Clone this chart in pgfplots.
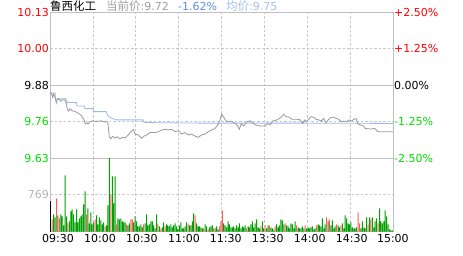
\documentclass[border=0pt]{standalone}
\usepackage{pgfplots}
\pgfplotsset{compat=1.18}
\usepackage{fontspec}
\setmainfont{DejaVu Sans}
\newfontfamily\cjk{Noto Sans CJK SC}
\definecolor{upred}{HTML}{FF0000}
\definecolor{dngreen}{HTML}{00E000}
\definecolor{barred}{HTML}{FF5A5A}
\definecolor{bargreen}{HTML}{00A000}
\definecolor{gridc}{HTML}{C8C8C8}
\definecolor{framec}{HTML}{C0C0C0}
\definecolor{pricec}{HTML}{999999}
\definecolor{avgc}{HTML}{9DB9EC}
\definecolor{titgray}{HTML}{A0A0A0}
\definecolor{titblue}{HTML}{5B8FE0}
\definecolor{titlblue}{HTML}{A3BFEF}
\definecolor{volgray}{HTML}{B4B4B4}

\pgfplotstableread{
m v
0 630
}\blackvol
\pgfplotstableread{
m v
1 252
4 693
6 273
12 168
25 357
31 252
38 105
42 777
46 147
53 147
56 252
57 252
65 147
75 147
77 63
80 105
96 147
101 336
107 63
110 42
114 63
118 105
119 210
120 441
137 63
147 105
150 126
153 126
157 105
164 168
172 126
178 126
186 126
193 294
195 252
200 147
203 126
215 399
216 168
222 147
224 252
229 168
}\redvol
\pgfplotstableread{
m v
2 357
3 294
5 336
7 357
8 315
9 126
10 1176
11 315
13 210
14 420
15 462
16 357
17 189
18 462
19 189
20 273
21 315
22 357
23 567
24 840
26 483
27 168
28 399
29 147
30 189
32 336
33 147
34 294
35 231
36 147
37 189
39 126
40 546
41 1533
43 1155
44 588
45 1155
47 273
48 252
49 273
50 210
51 189
52 189
54 126
55 168
58 189
59 315
60 210
61 105
62 105
63 147
64 84
66 168
67 357
68 126
69 147
70 210
71 210
72 126
73 63
74 357
76 105
78 84
79 189
81 147
82 126
83 105
84 147
85 84
86 126
87 168
88 105
89 42
90 126
91 189
92 63
93 63
94 105
95 189
97 126
98 126
99 210
100 378
102 168
103 105
104 105
105 84
106 63
108 147
109 105
111 84
112 105
113 126
115 63
116 105
117 42
121 168
122 126
123 84
124 210
125 147
126 84
127 84
128 105
129 63
130 126
131 84
132 168
133 63
134 105
135 84
136 126
138 105
139 84
140 147
141 210
142 84
143 168
144 252
145 84
146 63
148 210
149 63
151 63
152 126
154 84
155 63
156 42
158 147
159 84
160 126
161 252
162 231
163 147
165 126
166 105
167 63
168 168
169 147
170 63
171 210
173 84
174 63
175 63
176 105
177 63
179 63
180 84
181 63
182 84
183 105
184 42
185 63
187 147
188 126
189 105
190 273
191 63
192 147
194 210
196 126
197 231
198 63
199 105
201 126
202 84
204 168
205 63
206 336
207 273
208 168
209 147
210 189
211 84
212 63
213 63
214 84
217 63
218 210
219 84
220 63
221 294
223 294
225 294
226 84
227 210
228 273
230 483
231 210
232 168
233 210
234 441
235 315
236 147
237 42
238 21
239 21
240 1281
}\greenvol

\begin{document}
\begin{tikzpicture}
\useasboundingbox (0pt,0pt) rectangle (463pt,255pt);
\pgfplotsset{
  common/.style={scale only axis, width=343pt, xmin=0, xmax=240,
    axis line style={framec, line width=0.8pt},
    major tick length=0pt,
    tick label style={font=\fontsize{11}{13}\selectfont},
    grid style={gridc, dash pattern=on 2.5pt off 2pt, line width=0.6pt},
  }
}
% price panel
\begin{axis}[common, at={(50pt,97pt)}, anchor=south west, height=146pt,
  ymin=9.633, ymax=10.127,
  xtick={30,60,...,210}, xticklabels={}, xmajorgrids,
  ytick={9.7565,10.0035},
  yticklabels={\textcolor{dngreen}{9.76},\textcolor{upred}{10.00}},
  ymajorgrids,
  extra y ticks={9.633,9.88,10.127},
  extra y tick labels={\textcolor{dngreen}{9.63},9.88,\textcolor{upred}{10.13}},
  extra y tick style={grid=major, grid style={solid, framec, line width=0.8pt}},
  yticklabel style={inner sep=1pt},
]
\addplot[avgc, line width=0.8pt] coordinates {
(0,9.853) (3.6,9.853) (3.8,9.833) (11.2,9.833) (11.9,9.821) (18.5,9.821)
(18.9,9.809) (24.1,9.809) (24.5,9.800) (30.1,9.800) (30.4,9.790) (39.2,9.790)
(40.6,9.775) (43.4,9.767) (46.5,9.762) (65.1,9.762) (65.8,9.753) (105,9.751)
(175,9.751) (240,9.750)
};
\addplot[pricec, line width=0.8pt] coordinates {
(0,9.847) (0.9,9.853) (1.9,9.838) (2.6,9.850) (3.7,9.836) (4.4,9.819)
(5.1,9.830) (6.1,9.834) (7.5,9.825) (9.1,9.830) (10.3,9.830) (11.4,9.819)
(12.1,9.800) (13.1,9.791) (14,9.800) (15.4,9.793) (17.3,9.791) (19.6,9.785)
(21.9,9.777) (23.8,9.763) (24.7,9.748) (25.7,9.752) (26.6,9.748) (28,9.755)
(29.9,9.759) (31.7,9.757) (33.6,9.757) (35.9,9.759) (38.3,9.755) (39.7,9.757)
(40.6,9.750) (41.1,9.723) (41.5,9.705) (42.5,9.698) (43.9,9.707) (45.5,9.700)
(47.1,9.705) (49,9.698) (50.9,9.703) (52.5,9.701) (54.8,9.711) (57.2,9.725)
(58.3,9.730) (59.5,9.714) (61.8,9.711) (64.2,9.700) (65.8,9.707) (67.7,9.711)
(70,9.719) (73.5,9.719) (75.8,9.722) (78.2,9.728) (80.5,9.730) (82.8,9.728)
(85.2,9.730) (87.5,9.722) (89.8,9.725) (92.2,9.714) (94.5,9.719) (96.8,9.711)
(99.1,9.714) (101.5,9.707) (103.8,9.703) (106.1,9.711) (108.5,9.714) (110.8,9.722)
(113.1,9.728) (115.5,9.733) (117.8,9.748) (119,9.762) (120.1,9.782) (121.3,9.773)
(122.4,9.764) (123.6,9.756) (126,9.758) (127.3,9.756) (129.7,9.750) (130.8,9.745)
(132.5,9.730) (133.9,9.750) (135.5,9.741) (137.8,9.756) (140.2,9.759) (141.8,9.752)
(143.6,9.745) (147.1,9.741) (150.6,9.741) (152.5,9.750) (154.1,9.745) (155.8,9.758)
(158.8,9.762) (161.8,9.771) (163.5,9.781) (165.1,9.773) (167.4,9.771) (169.3,9.764)
(172.8,9.764) (175.1,9.762) (176.8,9.750) (178.2,9.762) (179.1,9.756) (181,9.764)
(182.8,9.773) (184.5,9.771) (186.1,9.764) (188,9.762) (189.8,9.758) (191.5,9.767)
(193.1,9.752) (195,9.764) (196.8,9.771) (198.5,9.771) (200.1,9.767) (202,9.764)
(203.8,9.756) (205.5,9.758) (207.8,9.756) (209.4,9.762) (211.1,9.758) (212.5,9.764)
(214.1,9.767) (215.5,9.748) (217.1,9.745) (219.5,9.741) (220.6,9.733) (224.1,9.731)
(227.2,9.733) (229.5,9.722) (232.3,9.722) (240,9.722)
};
\end{axis}
% right percentage labels
\begin{axis}[common, at={(50pt,97pt)}, anchor=south west, height=146pt,
  ymin=9.633, ymax=10.127, axis x line=none, axis y line*=right,
  ytick={9.633,9.7565,9.88,10.0035,10.127},
  yticklabels={\textcolor{dngreen}{-2.50\%},\textcolor{dngreen}{-1.25\%},0.00\%,\textcolor{upred}{+1.25\%},\textcolor{upred}{+2.50\%}},
  yticklabel style={inner sep=1pt},
]
\addplot[draw=none] coordinates {(0,9.88)};
\end{axis}
% volume panel
\begin{axis}[common, at={(50pt,23.5pt)}, anchor=south west, height=73.5pt,
  ymin=0, ymax=1538,
  ytick={769}, yticklabels={\textcolor{volgray}{769}}, ymajorgrids,
  yticklabel style={inner sep=1pt},
  xtick={5.6,35,64.3,93.7,123,152.4,181.8,211.1,239.9},
  xticklabels={09:30,10:00,10:30,11:00,11:30,13:30,14:00,14:30,15:00},
  xticklabel style={anchor=base, yshift=-11pt},
  extra x ticks={30,60,...,210}, extra x tick labels={},
  extra x tick style={grid=major},
]
\addplot[ybar, bar width=1pt, bar shift=0.8pt, fill=black, draw=none] table[x=m,y=v] {\blackvol};
\addplot[ybar, bar width=1pt, bar shift=0.8pt, fill=barred, draw=none] table[x=m,y=v] {\redvol};
\addplot[ybar, bar width=1pt, bar shift=0.8pt, fill=bargreen, draw=none] table[x=m,y=v] {\greenvol};
\end{axis}
% title
\node[anchor=base west, inner sep=0] at (50pt,244.5pt) {\cjk\fontsize{11.5}{13}\selectfont 鲁西化工};
\node[anchor=base west, inner sep=0, text=titgray] at (106pt,244.5pt) {\fontsize{11}{13}\selectfont{\cjk\fontsize{11.5}{13}\selectfont 当前价}:9.72};
\node[anchor=base west, inner sep=0, text=titblue] at (178pt,244.5pt) {\fontsize{11}{13}\selectfont -1.62\%};
\node[anchor=base west, inner sep=0, text=titlblue] at (226pt,244.5pt) {\fontsize{11}{13}\selectfont{\cjk\fontsize{11.5}{13}\selectfont 均价}:9.75};
\end{tikzpicture}
\end{document}
